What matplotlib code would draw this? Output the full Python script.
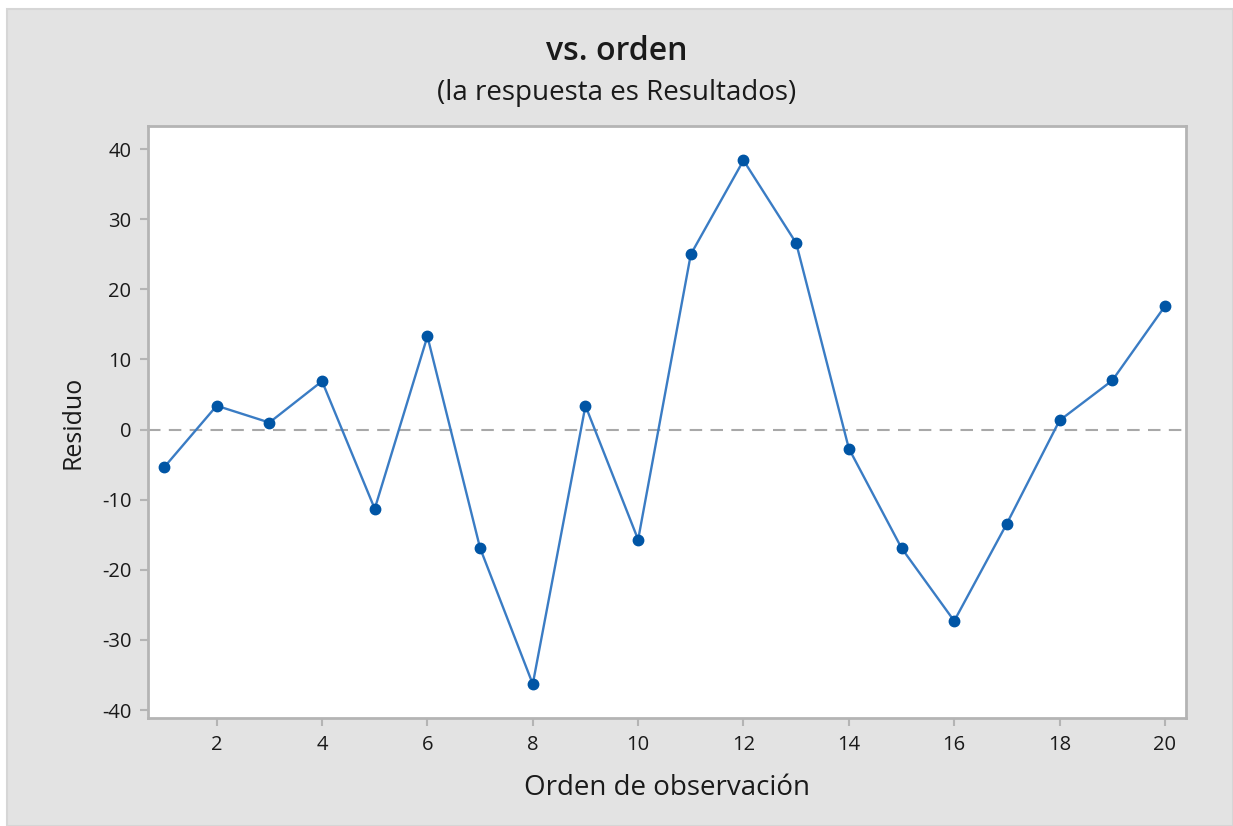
import matplotlib
matplotlib.use("Agg")
import matplotlib.pyplot as plt
from matplotlib.patches import Rectangle

order = list(range(1, 21))
residuals = [-5.4, 3.4, 1.0, 6.9, -11.3, 13.3, -16.9, -36.3, 3.4, -15.7,
             25.0, 38.4, 26.6, -2.7, -16.9, -27.3, -13.4, 1.3, 7.0, 17.6]
xticks = [2, 4, 6, 8, 10, 12, 14, 16, 18, 20]
yticks = [-40, -30, -20, -10, 0, 10, 20, 30, 40]

plt.rcParams['font.family'] = ['Open Sans', 'DejaVu Sans']
plt.rcParams['axes.unicode_minus'] = False

fig = plt.figure(figsize=(12.33, 8.26), dpi=100)
fig.patch.set_facecolor('white')
fig.patches.append(Rectangle((7/1233, 0), 1 - 7/1233, 1 - 9/826,
                             transform=fig.transFigure, facecolor='#e3e3e3',
                             edgecolor='#d6d6d6', linewidth=1.5, zorder=-10))

ax = fig.add_axes([148/1233, 1 - 718/826, (1186-148)/1233, (718-126)/826])
ax.set_facecolor('white')

ax.axhline(0, color='#a8a8a8', linestyle=(0, (6, 4)), linewidth=1.5, zorder=1)
ax.plot(order, residuals, color='#3a7cc4', linewidth=1.7, zorder=2)
ax.plot(order, residuals, linestyle='none', marker='o', markersize=7.5,
        color='#0055a5', zorder=3)

ax.set_xlim(0.696, 20.40)
ax.set_ylim(-41.14, 43.3)
ax.set_xticks(xticks)
ax.set_yticks(yticks)
for s in ax.spines.values():
    s.set_color('#b4b4b4')
    s.set_linewidth(2)
ax.tick_params(axis='both', colors='#b4b4b4', labelcolor='#1a1a1a',
               labelsize=14.5, length=6, width=1.5, direction='out', pad=6)

ax.set_xlabel('Orden de observación', fontsize=20, color='#1a1a1a', labelpad=14)
ax.set_ylabel('Residuo', fontsize=18, color='#1a1a1a', labelpad=12)

fig.text(0.5, 1 - 52/826, 'vs. orden', ha='center', va='center',
         fontsize=23, fontweight='semibold', color='#1a1a1a')
fig.text(0.5, 1 - 93/826, '(la respuesta es Resultados)', ha='center',
         va='center', fontsize=20, color='#1a1a1a')

fig.savefig('out.png', dpi=100, facecolor=fig.get_facecolor())
